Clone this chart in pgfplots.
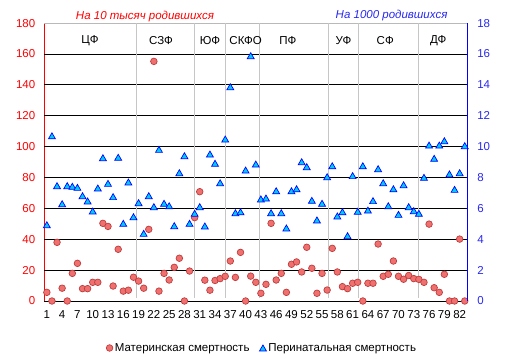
\documentclass[border=0pt]{standalone}
\usepackage{fontspec}
\setmainfont{Liberation Sans}
\usepackage{pgfplots}
\usepackage{pgfplotstable}
\pgfplotsset{compat=1.18}
\definecolor{mred}{RGB}{240,112,112}
\definecolor{mredge}{RGB}{190,60,60}
\definecolor{pcyan}{RGB}{0,204,255}
\definecolor{pblue}{RGB}{0,0,255}
\definecolor{lred}{RGB}{255,0,0}
\definecolor{lblue}{RGB}{40,40,240}
\newcommand\cf{\fontsize{11.5bp}{13.8bp}\selectfont}

\pgfplotstableread{
x y
1 5.6
2 0
3 38.0
4 8.3
5 0
6 17.9
7 24.4
8 8.0
9 8.0
10 12.1
11 12.1
12 50.3
13 48.3
14 9.7
15 33.5
16 6.4
17 7.0
18 15.4
19 12.9
20 8.3
21 46.4
22 155.2
23 6.4
24 17.9
25 13.6
26 21.8
27 27.7
28 0
29 19.4
30 54.0
31 70.8
32 13.5
33 7.0
34 13.3
35 14.5
36 16.0
37 25.9
38 15.3
39 31.5
40 0
41 16.1
42 12.1
43 5.0
44 10.8
45 50.3
46 13.6
47 17.9
48 5.6
49 23.8
50 25.3
51 18.8
52 34.8
53 21.2
54 5.0
55 17.9
56 7.1
57 34.1
58 18.8
59 9.3
60 8.0
61 11.5
62 12.1
63 0
64 11.5
65 11.5
66 36.9
67 16.0
68 17.3
69 25.9
70 16.0
71 14.1
72 16.5
73 14.5
74 14.0
75 12.1
76 49.8
77 8.6
78 5.6
79 17.3
80 0
81 0
82 40.1
83 0
}\maternal

\pgfplotstableread{
x y
1 4.94
2 10.70
3 7.47
4 6.30
5 7.47
6 7.43
7 7.36
8 6.82
9 6.48
10 5.83
11 7.32
12 9.28
13 7.62
14 6.76
15 9.31
16 5.03
17 7.71
18 5.46
19 6.37
20 4.38
21 6.82
22 6.11
23 9.82
24 6.33
25 6.17
26 4.88
27 8.31
28 9.41
29 5.03
30 5.68
31 6.11
32 4.86
33 9.52
34 8.92
35 7.66
36 10.49
37 13.88
38 5.72
39 5.78
40 8.48
41 15.89
42 8.87
43 6.61
44 6.67
45 5.72
46 7.14
47 5.72
48 4.73
49 7.14
50 7.27
51 9.02
52 8.70
53 6.52
54 5.25
55 6.33
56 8.05
57 8.76
58 5.51
59 5.78
60 4.23
61 8.12
62 5.81
63 8.76
64 5.89
65 6.50
66 8.57
67 7.66
68 6.17
69 7.27
70 5.61
71 7.53
72 6.11
73 5.85
74 5.68
75 8.01
76 10.10
77 9.24
78 10.10
79 10.38
80 8.23
81 7.23
82 8.31
83 10.06
}\perinatal

\begin{document}
\begin{tikzpicture}[font=\cf]
\path[use as bounding box] (0,0) rectangle (505bp,364bp);
\begin{axis}[
  at={(44.3bp,63bp)}, anchor=south west,
  scale only axis, width=423bp, height=277.9bp,
  xmin=0.5, xmax=83.5, ymin=0, ymax=180,
  xtick={1,4,...,82}, ytick={0,20,...,180},
  axis x line*=bottom, axis y line*=left,
  x axis line style={black, line width=0.8bp, -},
  y axis line style={lred, line width=0.8bp, -},
  major tick length=0,
  tick label style={font=\cf},
  /pgf/number format/assume math mode=true,
  yticklabel style={lred, xshift=-5.5bp},
  xticklabel style={yshift=-6bp},
  extra y ticks={20,40,...,160}, extra y tick labels={},
  extra y tick style={grid=major},
  major grid style={black, line width=0.8bp},
  clip=false,
]
\draw[gray!55, line width=0.8bp] (rel axis cs:0,1) -- (rel axis cs:1,1);
\draw[gray!45, line width=0.8bp] (axis cs:18.55,2) -- (axis cs:18.55,180);
\draw[gray!45, line width=0.8bp] (axis cs:29.88,2) -- (axis cs:29.88,180);
\draw[gray!45, line width=0.8bp] (axis cs:36.02,2) -- (axis cs:36.02,180);
\draw[gray!45, line width=0.8bp] (axis cs:42.7,2) -- (axis cs:42.7,180);
\draw[gray!45, line width=0.8bp] (axis cs:56.2,2) -- (axis cs:56.2,180);
\draw[gray!45, line width=0.8bp] (axis cs:62.2,2) -- (axis cs:62.2,180);
\draw[gray!45, line width=0.8bp] (axis cs:73.97,2) -- (axis cs:73.97,180);
\node at (axis cs:9.47,168.4) {ЦФ};
\node at (axis cs:23.4,168.4) {СЗФ};
\node at (axis cs:33.0,168.4) {ЮФ};
\node at (axis cs:40.0,168.4) {СКФО};
\node at (axis cs:48.3,168.4) {ПФ};
\node at (axis cs:59.2,168.4) {УФ};
\node at (axis cs:67.4,168.4) {СФ};
\node at (axis cs:77.8,168.4) {ДФ};
\node[lred, font=\cf\itshape] at (rel axis cs:0.238,1.025) {На 10 тысяч родившихся};
\node[lblue, font=\cf\itshape] at (rel axis cs:0.821,1.027) {На 1000 родившихся};
\addplot[only marks, mark=*, mark size=3.3bp, mark options={fill=mred, draw=mredge, line width=0.7bp}] table[x=x,y=y] {\maternal};
\end{axis}
\begin{axis}[
  at={(44.3bp,63bp)}, anchor=south west,
  scale only axis, width=423bp, height=277.9bp,
  xmin=0.5, xmax=83.5, ymin=0, ymax=18,
  ytick={0,2,...,18},
  axis y line*=right, axis x line=none,
  y axis line style={pblue, line width=0.8bp, -},
  major tick length=0,
  tick label style={font=\cf},
  /pgf/number format/assume math mode=true,
  yticklabel style={lblue, xshift=6.5bp},
  clip=false,
  legend style={at={(0.515,-0.169)}, anchor=center, draw=none, fill=none,
    font=\cf, /tikz/every even column/.append style={column sep=8bp}},
  legend columns=2,
  legend image code/.code={\draw[#1] plot coordinates {(0.1cm,0cm)};},
]
\addlegendimage{only marks, mark=*, mark size=3.3bp, mark options={fill=mred, draw=mredge, line width=0.7bp}}
\addlegendentry{Материнская смертность}
\addplot[only marks, mark=triangle*, mark size=4bp, mark options={fill=pcyan, draw=pblue, line width=0.7bp, yshift=-1bp}] table[x=x,y=y] {\perinatal};
\addlegendentry{Перинатальная смертность}
\end{axis}
\end{tikzpicture}
\end{document}
